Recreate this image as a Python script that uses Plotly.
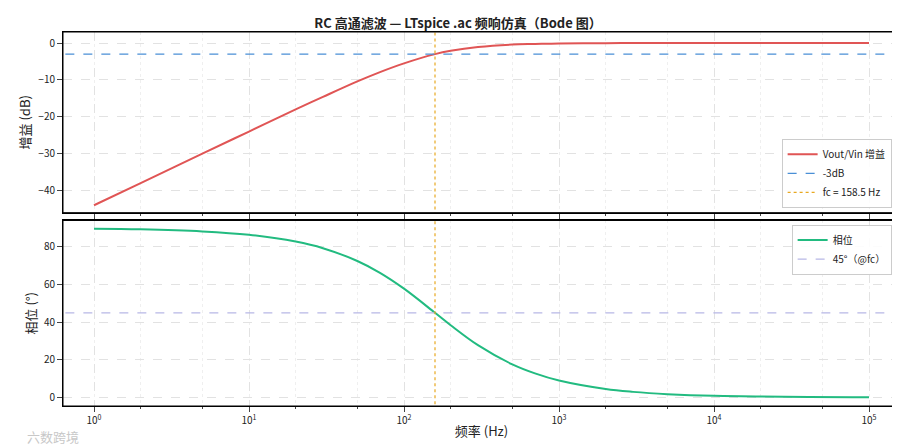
import plotly.graph_objects as go
from plotly.subplots import make_subplots

freq = [1, 2, 5, 10, 20, 30, 50, 70, 100, 158.5, 200, 300, 500, 700, 1000, 2000, 3000, 5000, 10000, 100000]
gain_db = [-44.0, -38.0, -30.0, -24.0, -18.0, -14.6, -10.4, -7.87, -5.5, -3.0, -2.1, -1.07, -0.4, -0.25, -0.1, -0.027, -0.012, -0.004, -0.001, 0.0]
phase_deg = [89.6, 89.3, 88.2, 86.4, 82.8, 79.3, 72.5, 66.2, 57.8, 45.0, 38.4, 27.8, 17.6, 12.8, 9.0, 4.5, 3.0, 1.8, 0.9, 0.1]
fc = 158.5
xt = [1, 10, 100, 1000, 10000, 100000]
xtl = ["10<sup>0</sup>", "10<sup>1</sup>", "10<sup>2</sup>", "10<sup>3</sup>", "10<sup>4</sup>", "10<sup>5</sup>"]

FONT = "Noto Sans CJK SC"
fig = make_subplots(rows=2, cols=1, shared_xaxes=True, vertical_spacing=0.02)
fig.add_trace(go.Scatter(x=freq, y=gain_db, mode="lines", line=dict(color="#e05555", width=2, shape="spline", smoothing=1),
                         name="Vout/Vin 增益", legend="legend"), 1, 1)
fig.add_trace(go.Scatter(x=[0.5, 2e5], y=[-3, -3], mode="lines", line=dict(color="#4a8fd6", width=1.2, dash="dash"),
                         name="-3dB", legend="legend"), 1, 1)
fig.add_trace(go.Scatter(x=[fc, fc], y=[-50, 10], mode="lines", line=dict(color="#e8a820", width=1.2, dash="dot"),
                         name="fc = 158.5 Hz", legend="legend"), 1, 1)
fig.add_trace(go.Scatter(x=freq, y=phase_deg, mode="lines", line=dict(color="#22bb80", width=2, shape="spline", smoothing=1),
                         name="相位", legend="legend2"), 2, 1)
fig.add_trace(go.Scatter(x=[0.5, 2e5], y=[45, 45], mode="lines", line=dict(color="#b8b8e6", width=1.2, dash="dash"),
                         name="45°（@fc）", legend="legend2"), 2, 1)
fig.add_trace(go.Scatter(x=[fc, fc], y=[-10, 100], mode="lines", line=dict(color="#e8a820", width=1.2, dash="dot"),
                         showlegend=False), 2, 1)

ax = dict(type="log", range=[-0.2, 5.2], showline=True, linecolor="black", mirror=True, ticks="outside",
          gridcolor="#e2e2e2", griddash="dash", tickvals=xt, ticktext=xtl, zeroline=False, tickfont=dict(size=10),
          minor=dict(showgrid=True, gridcolor="#efefef", griddash="dot", ticks="outside", ticklen=2))
fig.update_xaxes(**ax)
fig.update_xaxes(title_text="频率 (Hz)", title_standoff=0, row=2, col=1)
ay = dict(showline=True, linecolor="black", mirror=True, ticks="outside", gridcolor="#e2e2e2", griddash="dash",
          zeroline=False, tickfont=dict(size=10))
fig.update_yaxes(**ay)
fig.update_yaxes(range=[-46, 3], tickvals=[0, -10, -20, -30, -40], title_text="增益 (dB)", title_standoff=4, row=1, col=1)
fig.update_yaxes(range=[-4.5, 94], tickvals=[0, 20, 40, 60, 80], title_text="相位 (°)", title_standoff=4, row=2, col=1)

lg = dict(bgcolor="rgba(255,255,255,0.9)", bordercolor="#cccccc", borderwidth=1, font=dict(size=10),
          tracegroupgap=0, itemwidth=30)
fig.update_layout(
    width=900, height=446, plot_bgcolor="white", paper_bgcolor="white",
    font=dict(family=FONT, size=11, color="#222"),
    margin=dict(l=55, r=8, t=24, b=48),
    title=dict(text="<b>RC 高通滤波 — LTspice .ac 频响仿真（Bode 图）</b>", x=0.5, y=0.975, yanchor="top", font=dict(size=13)),
    legend=dict(x=0.99, y=0.53, xanchor="right", yanchor="bottom", **lg),
    legend2=dict(x=0.99, y=0.485, xanchor="right", yanchor="top", **lg),
    shapes=[dict(type="rect", xref="x domain", yref="y domain", x0=0, x1=1, y0=0, y1=1, line=dict(color="black", width=1)),
            dict(type="rect", xref="x2 domain", yref="y2 domain", x0=0, x1=1, y0=0, y1=1, line=dict(color="black", width=1))],
    annotations=[dict(text="六数跨境", x=0, y=0, xref="paper", yref="paper", xanchor="left", yanchor="bottom",
                      showarrow=False, font=dict(size=13, color="#c8c8c8"), xshift=-38, yshift=-42)],
)
fig.update_layout(yaxis=dict(domain=[0.517, 1]), yaxis2=dict(domain=[0, 0.496]))
fig.write_html("out.html")
